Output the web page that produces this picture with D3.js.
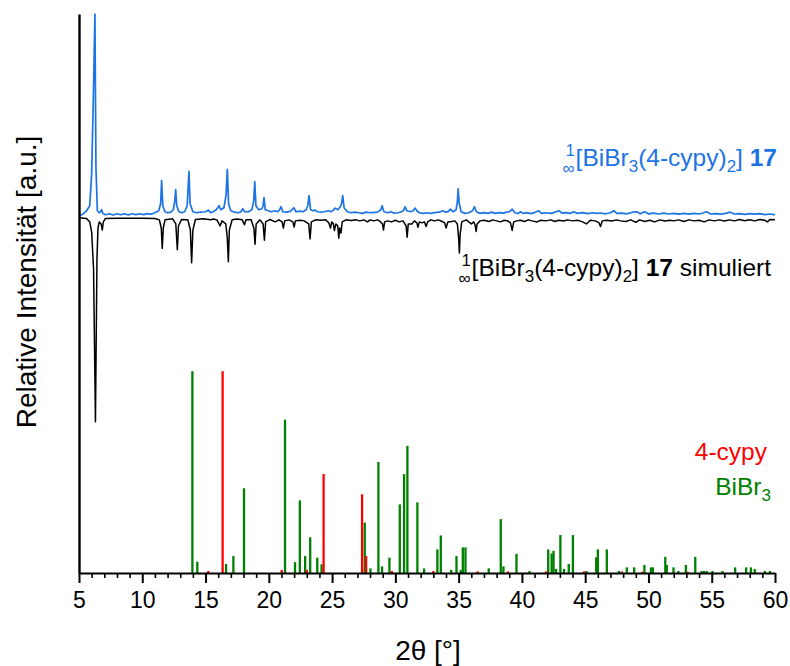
<!DOCTYPE html>
<html>
<head>
<meta charset="utf-8">
<script src="https://cdn.jsdelivr.net/npm/d3@7"></script>
<style>
body { margin: 0; background: #fff; }
svg text { font-family: "Liberation Sans", Arial, sans-serif; }
</style>
</head>
<body>
<div id="chart"></div>
<script>
// 2theta ticks
const majorTicks = [5, 10, 15, 20, 25, 30, 35, 40, 45, 50, 55, 60];

// gemessenes Pulverdiffraktogramm [2theta, rel. Intensitaet]
const expPattern = [
  [5.0,0],[5.3,0.8],[5.6,2.5],[5.85,5],[6.0,21],[6.13,57],[6.26,100],[6.34,24],[6.45,2.5],[6.6,1.5],[6.7,2],[6.79,3],[6.9,1],
  [7.1,0.5],[7.4,1],[7.7,0.4],[8.0,1],[8.3,0.5],[8.6,1],[8.9,0.4],[9.2,1],[9.5,0.6],[9.8,1],[10.1,0.6],[10.4,1.1],[10.7,0.8],
  [11.0,1.5],[11.3,2.5],[11.45,6],[11.53,17.5],[11.62,5],[11.8,2],[12.0,1.5],[12.25,1.8],[12.45,3],[12.56,7],[12.64,13],[12.72,5],
  [12.9,2],[13.1,1.5],[13.35,2],[13.55,5],[13.69,22],[13.78,6],[14.0,2],[14.3,1.5],[14.6,1.8],[15.0,2],[15.22,2.8],[15.4,1.5],
  [15.6,2],[15.85,3],[16.07,5],[16.2,3],[16.45,4],[16.62,10],[16.72,23],[16.82,6],[17.0,2.5],[17.3,1.8],[17.6,1.5],[17.8,2],
  [17.94,3.5],[18.1,2],[18.4,2],[18.65,3],[18.8,7],[18.89,17],[18.98,5],[19.2,3],[19.45,3.5],[19.55,5],[19.62,9],[19.72,3],
  [19.95,2.5],[20.2,2],[20.49,2.5],[20.7,2],[20.85,3],[20.97,4.5],[21.1,2],[21.4,1.8],[21.7,2.2],[21.97,4],[22.15,2],[22.45,2.3],
  [22.7,2],[22.95,3],[23.08,5],[23.18,10],[23.3,3],[23.5,2.5],[23.66,2.8],[23.85,2],[24.1,1.8],[24.4,2],[24.7,2.5],[24.9,2],
  [25.1,2.8],[25.24,3.8],[25.45,3],[25.65,4.5],[25.75,6],[25.84,10],[25.95,4],[26.2,2],[26.5,1.5],[26.8,1.8],[27.1,1.5],[27.4,1.2],
  [27.7,1.8],[28.0,1.5],[28.34,1.7],[28.6,1.8],[28.85,3],[28.95,5],[29.1,2],[29.4,1.5],[29.66,2],[29.9,1.3],[30.2,1.5],[30.5,2],
  [30.68,3],[30.77,4.5],[30.9,2.5],[31.2,2],[31.4,2.5],[31.56,3.8],[31.7,2.5],[31.9,1.5],[32.2,1.2],[32.5,1.5],[32.8,1.2],[33.1,1.6],
  [33.45,1.8],[33.75,2.5],[34.0,1.8],[34.2,2.2],[34.35,3.3],[34.55,2],[34.8,3],[34.9,7],[34.96,13.3],[35.05,6],[35.2,2],[35.5,1.2],
  [35.8,1.5],[36.1,2.5],[36.25,4.5],[36.4,2],[36.7,1.2],[37.0,1.6],[37.3,1.2],[37.6,1.8],[37.9,1.2],[38.2,1.6],[38.5,1.3],[38.8,1.8],
  [39.0,2],[39.23,3.3],[39.45,1.5],[39.7,1.2],[39.89,2],[40.1,1.2],[40.4,1.6],[40.7,1.1],[41.0,1.6],[41.33,2.5],[41.55,1.2],[41.9,1.5],
  [42.3,1.2],[42.6,1.8],[42.92,2.5],[43.2,1.3],[43.5,1.6],[43.8,1.2],[44.08,2],[44.4,1.2],[44.8,1.6],[45.2,1.1],[45.6,1.5],[45.9,1.2],
  [46.2,1.4],[46.6,1],[47.0,1.5],[47.26,2.5],[47.5,1.2],[47.9,1.3],[48.3,1],[48.8,1.8],[49.08,2],[49.35,1],[49.7,2],[50.0,1],
  [50.4,1.3],[50.8,0.9],[51.2,1.3],[51.6,0.9],[52.0,1.2],[52.4,0.8],[52.8,1.2],[53.2,0.8],[53.6,1.2],[54.0,0.9],[54.3,1.4],[54.6,2],
  [54.9,0.9],[55.3,1.1],[55.7,0.8],[56.1,1.2],[56.45,1.8],[56.8,0.9],[57.2,1.1],[57.6,0.7],[58.0,1.1],[58.4,0.8],[58.8,1.1],[59.2,0.6],
  [59.6,0.9],[60.0,0.5]
];

// simuliertes Diffraktogramm (nach unten gezeichnet)
const simPattern = [
  [5.0,0],[5.6,0.3],[5.85,2],[6.0,7],[6.15,25],[6.3,100],[6.42,20],[6.5,5],[6.6,2],[6.75,3],[6.84,6],[6.92,2],[7.1,0.3],
  [8.0,0.2],[9.0,0.2],[10.0,0.2],[11.0,0.3],[11.35,1],[11.5,5],[11.58,15],[11.66,5],[11.8,1],[12.4,0.5],[12.65,3],[12.77,15.7],
  [12.86,4],[13.1,0.8],[13.6,1],[13.8,6],[13.9,22],[14.0,6],[14.2,0.8],[14.8,0.4],[15.4,1],[15.6,0.6],[15.9,1],[16.15,4],[16.3,1.5],
  [16.6,3],[16.72,10],[16.8,21.5],[16.88,6],[17.1,1],[17.5,0.6],[17.9,1],[18.07,3.4],[18.2,1],[18.6,1],[18.82,5],[18.91,13],[19.0,3],
  [19.3,1],[19.55,3],[19.65,11],[19.75,2],[20.1,0.8],[20.5,2],[20.8,1],[21.05,2],[21.15,5],[21.25,1.5],[21.6,1],[21.9,2],[22.0,4.5],
  [22.1,1.5],[22.5,1.2],[22.8,1.5],[23.15,3],[23.26,10.4],[23.36,2],[23.7,1],[24.1,1.2],[24.5,1],[24.75,2.5],[24.87,5],[24.98,2],
  [25.1,3],[25.18,6.2],[25.3,3],[25.45,4],[25.53,10],[25.6,5],[25.7,7.5],[25.8,2],[26.1,1],[26.5,1.3],[26.9,1],[27.2,1.5],[27.5,1],
  [27.8,2],[28.0,1],[28.3,1.5],[28.6,1],[28.8,1.8],[28.98,3],[29.06,6],[29.15,2],[29.4,1.5],[29.7,2],[30.0,1.2],[30.3,2],[30.6,1.5],
  [30.85,4],[30.93,9.5],[31.02,3],[31.3,3],[31.5,1.5],[31.7,2.5],[31.78,4.6],[31.9,2],[32.1,2.5],[32.3,2],[32.43,4.3],[32.55,2],
  [32.8,1],[33.1,1.5],[33.4,1],[33.7,1.8],[33.9,2.5],[34.01,5],[34.15,2],[34.45,1.8],[34.7,1.5],[34.9,3],[35.0,10],[35.06,17.3],
  [35.12,8],[35.25,2],[35.6,1],[35.8,2],[36.0,3],[36.2,2],[36.3,3.5],[36.38,6.7],[36.46,3],[36.7,1.5],[37.0,1.2],[37.4,1.8],[37.7,1],
  [38.0,1.5],[38.3,2],[38.6,1.2],[38.9,1.6],[39.1,2.5],[39.23,6.2],[39.35,2],[39.6,1.5],[39.9,1.2],[40.2,1.8],[40.5,1],[40.8,1.5],
  [41.2,2],[41.5,1.2],[41.9,1.5],[42.3,1],[42.6,1.8],[42.9,1.2],[43.3,1.6],[43.6,1],[44.0,1.5],[44.4,1.2],[44.8,2],[45.1,3],[45.4,1.2],
  [45.8,1.5],[46.1,2.5],[46.21,4.3],[46.35,1.5],[46.7,1.2],[47.1,1.6],[47.5,1],[47.8,1.5],[48.2,1.8],[48.6,1],[49.0,2.2],[49.3,1],
  [49.7,1.8],[50.1,1.2],[50.5,2],[50.9,1],[51.3,1.6],[51.7,1.2],[52.0,1.5],[52.4,1],[52.8,1.8],[53.2,1],[53.6,1.5],[54.0,1.2],[54.4,2],
  [54.8,1],[55.2,1.5],[55.6,1],[56.0,1.6],[56.4,1],[56.8,1.5],[57.2,0.8],[57.6,1.4],[58.0,0.9],[58.4,1.5],[58.8,0.8],[59.2,1.2],
  [59.4,2],[59.6,0.8],[60.0,0.9]
];

// Referenzreflexe BiBr3 [2theta, I %]
const bibr3Sticks = [
  [13.96,100],[14.35,5.6],[16.62,4.5],[17.2,8.4],[18.04,42],[21.28,76],[22.07,5.4],[22.45,36],[22.87,8.4],[23.27,17.7],
  [23.83,7.6],[24.17,4.3],[27.58,25],[28.03,2.3],[28.66,55],[28.95,3.3],[29.53,7.6],[30.35,34],[30.69,49],[30.95,63],
  [31.74,35],[32.27,2.3],[33.32,11.7],[33.59,18.6],[34.41,1.5],[34.83,8.4],[35.17,1.5],[35.33,12.7],[35.54,12.7],[37.38,2.3],
  [38.33,26.7],[38.54,3.3],[39.57,9.5],[40.6,1],[42.08,11.7],[42.35,9.7],[42.5,11],[42.7,2],[43.04,18.8],[43.33,2],
  [43.7,4.5],[44.03,18.8],[45.1,1],[45.87,7.8],[46.0,11.7],[46.71,11.7],[47.66,1],[48.29,2.8],[48.87,2.8],[49.68,4],
  [50.2,2.8],[50.35,2.8],[51.33,8],[51.45,4],[51.98,2.8],[52.37,1],[52.96,4],[53.7,8],[54.2,1],[54.4,1],[54.6,1],
  [55.06,1],[55.85,1],[56.85,2.8],[57.72,2.8],[58.1,2.8],[58.4,2],[59.2,1],[59.6,1]
];

// Referenzreflexe 4-cypy
const cypySticks = [
  [15.22,1],[16.35,100],[21.02,1.5],[23.0,1.5],[24.33,49],[27.37,39],[27.69,8.4],[29.72,1],[33.0,1],
  [36.5,0.8],[38.9,0.8],[41.9,0.8],[44.9,0.8],[47.9,0.8],[49.5,0.6],[53.1,0.6]
];

const width = 790, height = 666;
const expOffset = 177;   // Basislinie gemessen
const simOffset = 176;   // Basislinie simuliert
const simScale = 1.01;

const svg = d3.select("#chart").append("svg")
  .attr("width", width)
  .attr("height", height);

const x = d3.scaleLinear().domain([5, 60]).range([79, 775]);
const y = d3.scaleLinear().domain([0, 277]).range([573, 14]);

// Stabdiagramme
function drawSticks(data, color) {
  svg.append("g").selectAll("line")
    .data(data)
    .enter().append("line")
    .attr("x1", d => x(d[0]))
    .attr("x2", d => x(d[0]))
    .attr("y1", y(0))
    .attr("y2", d => y(d[1]))
    .attr("stroke", color)
    .attr("stroke-width", 2.3);
}
drawSticks(bibr3Sticks, "#008000");
drawSticks(cypySticks, "#ff0000");

// simuliert (schwarz, nach unten)
const simLine = d3.line()
  .x(d => x(d[0]))
  .y(d => y(simOffset - d[1] * simScale));
svg.append("path")
  .datum(simPattern)
  .attr("fill", "none")
  .attr("stroke", "#000")
  .attr("stroke-width", 1.5)
  .attr("stroke-linejoin", "round")
  .attr("d", simLine);

// gemessen (blau)
const expLine = d3.line()
  .x(d => x(d[0]))
  .y(d => y(expOffset + d[1]));
svg.append("path")
  .datum(expPattern)
  .attr("fill", "none")
  .attr("stroke", "#1c74e4")
  .attr("stroke-width", 1.7)
  .attr("stroke-linejoin", "round")
  .attr("d", expLine);

// Achsen
const minorTicks = d3.range(5, 61, 1).filter(v => v % 5 !== 0);
svg.append("g")
  .attr("transform", "translate(0," + y(0) + ")")
  .call(d3.axisBottom(x).tickValues(minorTicks).tickSize(5).tickFormat(""))
  .call(g => g.select(".domain").remove())
  .call(g => g.selectAll(".tick line").attr("stroke-width", 1.6));

const xAxis = svg.append("g")
  .attr("transform", "translate(0," + y(0) + ")")
  .call(d3.axisBottom(x).tickValues(majorTicks).tickSize(10).tickSizeOuter(0).tickPadding(9));
xAxis.select(".domain").attr("stroke-width", 2.2);
xAxis.selectAll(".tick line").attr("stroke-width", 2);
xAxis.selectAll(".tick text")
  .attr("font-size", 23)
  .attr("fill", "#000")
  .style("font-family", "'Liberation Sans', Arial, sans-serif");

const yAxis = svg.append("g")
  .attr("transform", "translate(" + x(5) + ",0)")
  .call(d3.axisLeft(y).tickValues([]).tickSizeOuter(0));
yAxis.select(".domain").attr("stroke-width", 2.4);

// Achsentitel
svg.append("text")
  .attr("x", 428)
  .attr("y", 660)
  .attr("text-anchor", "middle")
  .attr("font-size", 28)
  .text("2θ [°]");

svg.append("text")
  .attr("transform", "translate(36,282) rotate(-90)")
  .attr("text-anchor", "middle")
  .attr("font-size", 28)
  .text("Relative Intensität [a.u.]");

// Beschriftung mit Praeskripten
function formulaLabel(xRight, yBase, color, suffix) {
  const t = svg.append("text")
    .attr("x", xRight)
    .attr("y", yBase)
    .attr("text-anchor", "end")
    .attr("font-size", 24.5)
    .attr("fill", color);
  t.append("tspan").text("[BiBr");
  t.append("tspan").attr("font-size", 17).attr("dy", 6).text("3");
  t.append("tspan").attr("dy", -6).text("(4-cypy)");
  t.append("tspan").attr("font-size", 17).attr("dy", 6).text("2");
  t.append("tspan").attr("dy", -6).text("] ");
  t.append("tspan").attr("font-weight", "bold").text("17");
  if (suffix) t.append("tspan").text(suffix);
  const x0 = t.node().getBBox().x;
  svg.append("text")
    .attr("x", x0 - 1).attr("y", yBase - 10)
    .attr("text-anchor", "end")
    .attr("font-size", 16)
    .attr("fill", color)
    .text("1");
  svg.append("text")
    .attr("x", x0 - 1).attr("y", yBase + 8)
    .attr("text-anchor", "end")
    .attr("font-size", 17)
    .attr("fill", color)
    .text("∞");
}
formulaLabel(777, 166, "#1c74e4", null);
formulaLabel(771, 276, "#000", " simuliert");

// Legende Referenzen
svg.append("text")
  .attr("x", 767).attr("y", 460)
  .attr("text-anchor", "end")
  .attr("font-size", 24.5)
  .attr("fill", "#ff0000")
  .text("4-cypy");

const leg = svg.append("text")
  .attr("x", 771).attr("y", 495)
  .attr("text-anchor", "end")
  .attr("font-size", 24.5)
  .attr("fill", "#008000");
leg.append("tspan").text("BiBr");
leg.append("tspan").attr("font-size", 17).attr("dy", 6).text("3");
</script>
</body>
</html>
